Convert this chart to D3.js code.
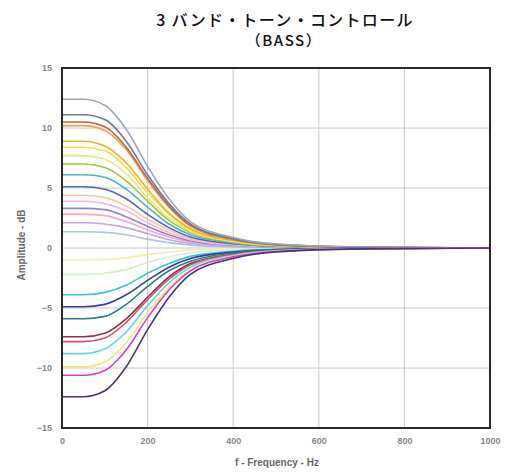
<!DOCTYPE html>
<html><head><meta charset="utf-8">
<script src="https://cdn.jsdelivr.net/npm/d3@7"></script>
<style>body{margin:0;background:#fff}svg{display:block}</style>
</head><body>
<svg id="c" width="509" height="473"></svg>
<script>
const titleLines = ["3 バンド・トーン・コントロール", "（BASS）"];
const xLabel = "f - Frequency - Hz";
const yLabel = "Amplitude - dB";
const xTicks = [0, 200, 400, 600, 800, 1000];
const xTickLabels = ["0", "200", "400", "600", "800", "1000"];
const yTicks = [15, 10, 5, 0, -5, -10, -15];
const yTickLabels = ["15", "10", "5", "0", "−5", "−10", "−15"];

const freqs = [0, 50, 100, 150, 200, 250, 300, 400, 500, 700, 1000];

const p124 = [12.4,12.4,11.9,9.9,6.8,4.1,2.2,0.87,0.33,0.07,0];
const p111 = [11.1,11.1,10.7,8.9,6.1,3.7,2.0,0.78,0.3,0.07,0];
const p105 = [10.5,10.5,10.1,8.4,5.8,3.5,1.9,0.74,0.28,0.06,0];
const p102 = [10.2,10.2,9.8,8.2,5.6,3.4,1.8,0.71,0.28,0.06,0];
const p89  = [8.9,8.9,8.5,7.1,4.9,2.9,1.6,0.62,0.24,0.05,0];
const p84  = [8.4,8.4,8.1,6.7,4.6,2.8,1.5,0.59,0.23,0.05,0];
const p77  = [7.7,7.7,7.4,6.2,4.2,2.5,1.4,0.54,0.21,0.05,0];
const p70  = [7.0,7.0,6.7,5.6,3.9,2.3,1.3,0.49,0.19,0.04,0];
const p61  = [6.1,6.1,5.9,4.9,3.4,2.0,1.1,0.43,0.16,0.04,0];
const p51  = [5.1,5.1,4.9,4.1,2.8,1.7,0.92,0.36,0.14,0.03,0];
const p44  = [4.4,4.4,4.2,3.5,2.4,1.5,0.79,0.31,0.12,0.03,0];
const p39  = [3.9,3.9,3.7,3.1,2.1,1.3,0.70,0.27,0.11,0.02,0];
const p33  = [3.3,3.3,3.2,2.6,1.8,1.1,0.59,0.23,0.09,0.02,0];
const p28  = [2.8,2.8,2.7,2.2,1.5,0.92,0.50,0.20,0.08,0.02,0];
const p21  = [2.1,2.1,2.0,1.7,1.2,0.69,0.38,0.15,0.06,0.01,0];
const p14  = [1.35,1.35,1.3,1.1,0.74,0.45,0.24,0.09,0.04,0.01,0];
const n10  = [-1.0,-1.0,-0.96,-0.8,-0.55,-0.33,-0.18,-0.07,-0.03,-0.01,0];
const n22  = [-2.2,-2.2,-2.1,-1.8,-1.2,-0.73,-0.4,-0.15,-0.06,-0.01,0];
const n39  = [-3.9,-3.9,-3.7,-3.1,-2.1,-1.3,-0.70,-0.27,-0.11,-0.02,0];
const n49  = [-4.9,-4.9,-4.7,-3.9,-2.7,-1.6,-0.88,-0.34,-0.13,-0.03,0];
const n59  = [-5.9,-5.9,-5.7,-4.7,-3.2,-1.9,-1.1,-0.41,-0.16,-0.04,0];
const n74  = [-7.4,-7.4,-7.1,-5.9,-4.1,-2.4,-1.3,-0.52,-0.2,-0.04,0];
const n78  = [-7.8,-7.8,-7.5,-6.2,-4.3,-2.6,-1.4,-0.55,-0.21,-0.05,0];
const n88  = [-8.8,-8.8,-8.4,-7.0,-4.8,-2.9,-1.6,-0.62,-0.24,-0.05,0];
const n99  = [-9.9,-9.9,-9.5,-7.9,-5.4,-3.3,-1.8,-0.69,-0.27,-0.06,0];
const n106 = [-10.6,-10.6,-10.2,-8.5,-5.8,-3.5,-1.9,-0.74,-0.29,-0.06,0];
const n124 = [-12.4,-12.4,-11.9,-9.9,-6.8,-4.1,-2.2,-0.87,-0.33,-0.07,0];

const series = [
  {v:n10, c:"#f3eeb0"}, {v:n22, c:"#d6eecb"},
  {v:p14, c:"#a8c6e8"}, {v:p21, c:"#c8a4e0"}, {v:p28, c:"#f0a8d8"},
  {v:p33, c:"#9a80c4"}, {v:p39, c:"#f2b8e2"}, {v:p44, c:"#f5c8a8"},
  {v:p51, c:"#4a68c0"}, {v:p61, c:"#48b8b0"}, {v:p70, c:"#9cc840"},
  {v:p77, c:"#e6e890"}, {v:p84, c:"#f2e04a"}, {v:p89, c:"#f0b030"},
  {v:p102, c:"#f0a050"}, {v:p105, c:"#b8683a"}, {v:p111, c:"#6f7ca3"},
  {v:p124, c:"#9ea6b8"},
  {v:n39, c:"#40c0e0"}, {v:n49, c:"#3040a0"}, {v:n59, c:"#2a8080"},
  {v:n74, c:"#903050"}, {v:n78, c:"#d05070"}, {v:n88, c:"#60d8e0"},
  {v:n99, c:"#f0e870"}, {v:n106, c:"#d040d0"}, {v:n124, c:"#503080"}
];

const svg = d3.select("#c");
const L = 62, R = 490, T = 68, B = 428;
const x = d3.scaleLinear().domain([0, 1000]).range([L, R]);
const y = d3.scaleLinear().domain([-15, 15]).range([B, T]);

// grid
svg.append("g").selectAll("line").data(xTicks.slice(1, -1)).join("line")
  .attr("x1", d => x(d)).attr("x2", d => x(d)).attr("y1", T).attr("y2", B)
  .attr("stroke", "#c8c8c8").attr("stroke-width", 1);
svg.append("g").selectAll("line").data(yTicks.slice(1, -1)).join("line")
  .attr("y1", d => y(d)).attr("y2", d => y(d)).attr("x1", L).attr("x2", R)
  .attr("stroke", "#c8c8c8").attr("stroke-width", 1);

// curves
const line = d3.line().x((d, i) => x(freqs[i])).y(d => y(d)).curve(d3.curveMonotoneX);
svg.append("g").selectAll("path").data(series).join("path")
  .attr("d", d => line(d.v)).attr("fill", "none")
  .attr("stroke", d => d.c).attr("stroke-width", 1.6);

// frame
svg.append("rect").attr("x", L).attr("y", T).attr("width", R - L).attr("height", B - T)
  .attr("fill", "none").attr("stroke", "#2a2a2a").attr("stroke-width", 2);

// axes labels
const xa = d3.axisBottom(x).tickValues(xTicks).tickFormat((d, i) => xTickLabels[i]).tickSize(0).tickPadding(10);
const gx = svg.append("g").attr("transform", `translate(0,${B})`).call(xa);
gx.select(".domain").remove();
gx.selectAll("text").attr("font-family", "Liberation Sans, Arial, sans-serif")
  .attr("font-size", 9).attr("font-weight", "bold").attr("fill", "#888");

const ya = d3.axisLeft(y).tickValues(yTicks).tickFormat((d, i) => yTickLabels[i]).tickSize(0).tickPadding(10);
const gy = svg.append("g").attr("transform", `translate(${L},0)`).call(ya);
gy.select(".domain").remove();
gy.selectAll("text").attr("font-family", "Liberation Sans, Arial, sans-serif")
  .attr("font-size", 9).attr("font-weight", "bold").attr("fill", "#888");

svg.append("text").attr("x", 277).attr("y", 466).attr("text-anchor", "middle")
  .attr("font-family", "Liberation Sans, Arial, sans-serif").attr("font-size", 10)
  .attr("font-weight", "bold").attr("fill", "#666").text(xLabel);
svg.append("text").attr("transform", "translate(25,245) rotate(-90)").attr("text-anchor", "middle")
  .attr("font-family", "Liberation Sans, Arial, sans-serif").attr("font-size", 10)
  .attr("font-weight", "bold").attr("fill", "#666").text(yLabel);

// title
svg.append("text").attr("x", 285).attr("y", 26).attr("text-anchor", "middle")
  .attr("font-family", "Noto Sans CJK JP, sans-serif").attr("font-size", 16)
  .attr("letter-spacing", 1.3).attr("font-weight", 500).attr("fill", "#111").text(titleLines[0]);
svg.append("text").attr("x", 284).attr("y", 46).attr("text-anchor", "middle")
  .attr("font-family", "Noto Sans CJK JP, sans-serif").attr("font-size", 15)
  .attr("letter-spacing", 1.5).attr("font-weight", 500).attr("fill", "#111").text(titleLines[1]);
</script>
</body></html>
